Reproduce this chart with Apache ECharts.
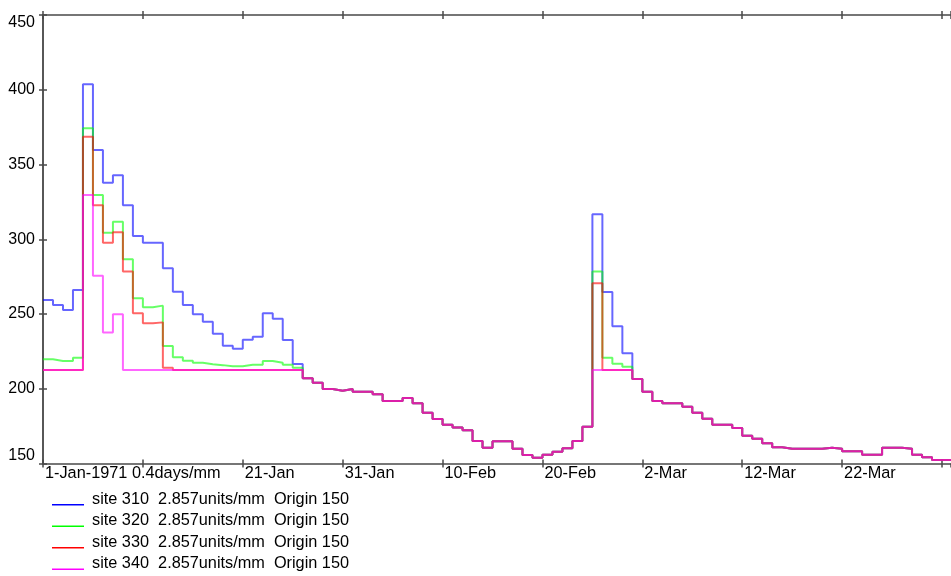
<!DOCTYPE html>
<html>
<head>
<meta charset="utf-8">
<script src="https://cdn.jsdelivr.net/npm/echarts@6/dist/echarts.min.js"></script>
<style>
  html, body { margin: 0; padding: 0; background: #ffffff; }
  #chart { width: 951px; height: 576px; }
</style>
</head>
<body>
<div id="chart"></div>
<script>
// Daily flow records, 1 Jan 1971 onward (one value per day, drawn as steps)
const xTickLabels = ['1-Jan-1971 0.4days/mm', '', '21-Jan', '31-Jan', '10-Feb', '20-Feb', '2-Mar', '12-Mar', '22-Mar', ''];
const yTickValues = [150, 200, 250, 300, 350, 400, 450];

const seriesNames = [
  'site 310  2.857units/mm  Origin 150',
  'site 320  2.857units/mm  Origin 150',
  'site 330  2.857units/mm  Origin 150',
  'site 340  2.857units/mm  Origin 150'
];
const seriesColors = ['#0000ff', '#00ff00', '#ff0000', '#ff00ff'];

// site 340, days 0-90
const site340 = [
  212.5, 212.5, 212.5, 212.5, 329.6, 275.6, 237.7, 249.8, 212.5, 212.5,
  212.5, 212.5, 212.5, 212.5, 212.5, 212.5, 212.5, 212.5, 212.5, 212.5,
  212.5, 212.5, 212.5, 212.5, 212.5, 212.5, 207.0, 204.0, 199.8, 198.7,
  199.8, 198.0, 198.0, 196.3, 191.8, 191.8, 193.8, 190.3, 184.0, 179.8,
  176.0, 174.0, 172.2, 165.0, 160.6, 164.8, 164.8, 159.9, 155.7, 153.9,
  155.9, 157.9, 160.2, 165.0, 174.6, 212.5, 212.5, 212.5, 212.5, 206.5,
  198.0, 191.8, 190.3, 190.3, 188.0, 184.0, 180.0, 176.0, 176.0, 173.7,
  168.6, 166.6, 163.5, 160.8, 159.9, 159.9, 159.9, 159.9, 160.6, 159.9,
  158.2, 158.2, 155.9, 155.9, 160.6, 160.6, 159.9, 155.9, 154.1, 152.3,
  152.3
];

// Other sites: their own values for days 0-25 and for the second peak (days 55-58);
// on all other days they coincide with site 340.
const site310Early = [
  259.4, 256.0, 252.7, 266.0, 403.6, 359.7, 337.8, 342.8, 322.7, 302.2,
  297.7, 297.7, 280.6, 264.9, 256.0, 249.8, 244.8, 236.8, 228.7, 226.8,
  232.8, 234.8, 250.5, 246.9, 232.6, 216.6
];
const site310Peak = [316.7, 264.7, 241.8, 223.7];

const site320Early = [
  219.7, 218.6, 218.6, 220.8, 374.2, 329.6, 304.4, 311.7, 286.6, 260.5,
  254.5, 255.6, 228.6, 221.0, 218.8, 217.4, 216.4, 215.8, 215.0, 215.0,
  216.0, 216.0, 218.6, 217.4, 216.0, 214.0
];
const site320Peak = [278.5, 220.8, 216.8, 214.7];

const site330Early = [
  212.5, 212.5, 212.5, 212.5, 368.6, 322.7, 297.7, 304.6, 278.5, 250.5,
  243.8, 244.4, 214.1, 212.5, 212.5, 212.5, 212.5, 212.5, 212.5, 212.5,
  212.5, 212.5, 212.5, 212.5, 212.5, 212.5
];
const site330Peak = [270.5, 212.5, 212.5, 212.5];

const PEAK_START = 55;
const X_MAX = 90.9;

function composeSite(early, peak) {
  return site340.map((v, d) => {
    if (d < early.length) return early[d];
    if (d >= PEAK_START && d < PEAK_START + peak.length) return peak[d - PEAK_START];
    return v;
  });
}

const siteValues = [
  composeSite(site310Early, site310Peak),
  composeSite(site320Early, site320Peak),
  composeSite(site330Early, site330Peak),
  site340
];

function toSteps(values) {
  const pts = values.map((v, d) => [d, v]);
  pts.push([X_MAX, values[values.length - 1]]);
  return pts;
}

const FONT = "'Liberation Sans', Arial, sans-serif";
const FONT_SIZE = 16.3;
const darkAxis = '#4a4a4a';

function xLabel(v) {
  const i = Math.round(v / 10);
  if (Math.abs(v - i * 10) > 1e-6 || i >= xTickLabels.length) return '';
  return xTickLabels[i];
}

const baseX = {
  type: 'value', min: 0, max: X_MAX, interval: 10,
  splitLine: { show: false }
};
const baseY = {
  type: 'value', min: yTickValues[0], max: yTickValues[yTickValues.length - 1], interval: 50,
  splitLine: { show: false }
};

const chart = echarts.init(document.getElementById('chart'), null, { renderer: 'canvas' });

chart.setOption({
  animation: false,
  backgroundColor: '#ffffff',
  grid: { left: 43, top: 15, width: 909, height: 448.5, containLabel: false },
  xAxis: [
    Object.assign({}, baseX, {
      position: 'bottom',
      axisLine: { show: true, lineStyle: { color: darkAxis, width: 1.5 } },
      axisTick: { show: true, inside: true, length: 4, lineStyle: { color: darkAxis, width: 1.5 } },
      axisLabel: {
        show: true, formatter: xLabel, align: 'left', verticalAlign: 'top',
        margin: 2, color: '#000', fontFamily: FONT, fontSize: FONT_SIZE, padding: [0, 0, 0, 2],
        showMaxLabel: false
      }
    }),
    Object.assign({}, baseX, {
      position: 'bottom',
      axisLine: { show: false },
      axisTick: { show: true, inside: false, length: 4, lineStyle: { color: darkAxis, width: 1.5 } },
      axisLabel: { show: false }
    }),
    Object.assign({}, baseX, {
      position: 'top',
      axisLine: { show: true, lineStyle: { color: darkAxis, width: 1.5 } },
      axisTick: { show: true, inside: true, length: 4, lineStyle: { color: darkAxis, width: 1.5 } },
      axisLabel: { show: false }
    }),
    Object.assign({}, baseX, {
      position: 'top',
      axisLine: { show: false },
      axisTick: { show: true, inside: false, length: 4, lineStyle: { color: darkAxis, width: 1.5 } },
      axisLabel: { show: false }
    })
  ],
  yAxis: [
    Object.assign({}, baseY, {
      position: 'left',
      axisLine: { show: true, lineStyle: { color: '#808080', width: 2 } },
      axisTick: { show: true, inside: false, length: 4, lineStyle: { color: darkAxis, width: 1.5 } },
      axisLabel: {
        show: true, margin: 8, color: '#000', fontFamily: FONT, fontSize: 16,
        verticalAlignMinLabel: 'bottom', verticalAlignMaxLabel: 'top'
      }
    }),
    Object.assign({}, baseY, {
      position: 'left',
      axisLine: { show: false },
      axisTick: { show: true, inside: true, length: 4, lineStyle: { color: darkAxis, width: 1.5 } },
      axisLabel: { show: false }
    }),
    Object.assign({}, baseY, {
      position: 'right',
      axisLine: { show: true, lineStyle: { color: darkAxis, width: 1.5 } },
      axisTick: { show: true, inside: true, length: 4, lineStyle: { color: darkAxis, width: 1.5 } },
      axisLabel: { show: false }
    })
  ],
  legend: {
    orient: 'vertical',
    left: 52,
    top: 491.5,
    padding: 0,
    itemGap: 5.5,
    itemWidth: 35,
    itemHeight: 12,
    selectedMode: false,
    icon: 'path://M0,0 M35,0 M0,10.5 L32,10.5 L32,12 L0,12 Z',
    textStyle: { color: '#000', fontFamily: FONT, fontSize: FONT_SIZE, lineHeight: 16 },
    data: seriesNames
  },
  series: siteValues.map((vals, i) => ({
    name: seriesNames[i],
    type: 'line',
    step: 'end',
    symbol: 'none',
    xAxisIndex: 0,
    yAxisIndex: 0,
    data: toSteps(vals),
    itemStyle: { color: seriesColors[i] },
    lineStyle: { color: seriesColors[i], width: 2, opacity: 0.6 },
    emphasis: { disabled: true },
    z: 2 + i
  }))
});
</script>
</body>
</html>
